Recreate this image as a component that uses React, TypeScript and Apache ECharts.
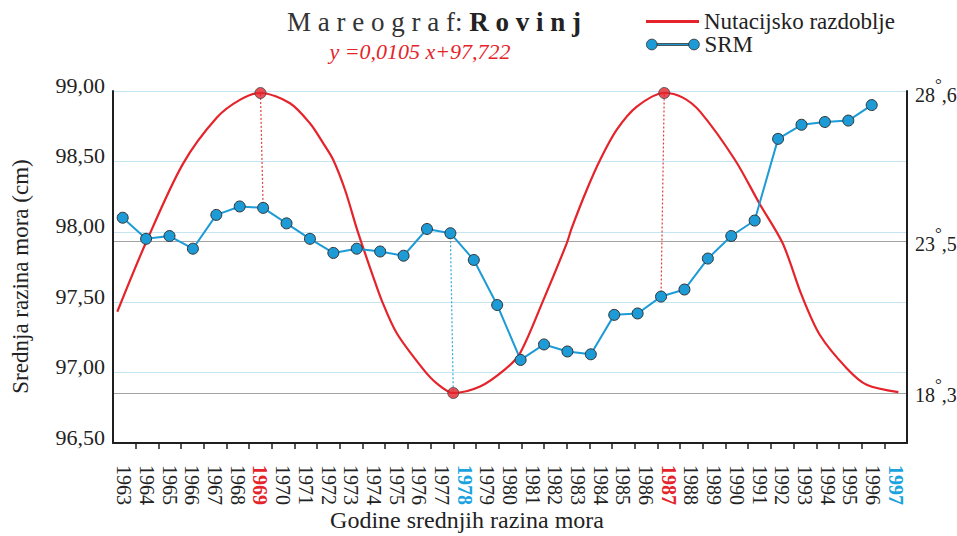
import React, { useEffect, useRef } from 'react';
import * as echarts from 'echarts';

// ---- data ----
const yearLabels = [
  1963, 1964, 1965, 1966, 1967, 1968, 1969, 1970, 1971, 1972, 1973, 1974,
  1975, 1976, 1977, 1978, 1979, 1980, 1981, 1982, 1983, 1984, 1985, 1986,
  1987, 1988, 1989, 1990, 1991, 1992, 1993, 1994, 1995, 1996, 1997,
];
const redLabelYears = [1969, 1987];
const blueLabelYears = [1978, 1997];

const srmYears = [
  1963, 1964, 1965, 1966, 1967, 1968, 1969, 1970, 1971, 1972, 1973, 1974,
  1975, 1976, 1977, 1978, 1979, 1980, 1981, 1982, 1983, 1984, 1985, 1986,
  1987, 1988, 1989, 1990, 1991, 1992, 1993, 1994, 1995,
];
const srmValues = [
  98.10, 97.95, 97.97, 97.88, 98.12, 98.18, 98.17, 98.06, 97.95, 97.85, 97.88,
  97.86, 97.83, 98.02, 97.99, 97.80, 97.48, 97.09, 97.20, 97.15, 97.13, 97.41,
  97.42, 97.54, 97.59, 97.81, 97.97, 98.08, 98.66, 98.76, 98.78, 98.79, 98.90,
];

const nutationYears = [
  1962.69, 1963.94, 1965.57, 1967.07, 1968.13, 1969.0, 1970.3, 1971.18, 1971.77,
  1972.21, 1972.73, 1973.24, 1973.46, 1973.97, 1974.34, 1975.01, 1976.18,
  1976.77, 1977.5, 1978.68, 1979.78, 1980.44, 1981.47, 1982.5, 1982.72, 1983.38,
  1983.97, 1984.7, 1985.59, 1986.8, 1987.6, 1988.38, 1989.92, 1991.0, 1992.02,
  1992.86, 1993.66, 1994.84, 1995.72, 1997.12,
];
const nutationDeg = [
  21.09, 23.44, 26.15, 27.75, 28.38, 28.6, 28.25, 27.56, 26.87, 26.3, 25.27,
  23.96, 23.44, 22.29, 21.49, 20.35, 19.11, 18.63, 18.3, 18.52, 19.11, 19.66,
  21.49, 23.44, 23.96, 25.27, 26.3, 27.33, 28.13, 28.6, 28.45, 27.96, 26.3, 24.8,
  23.44, 21.65, 20.29, 19.15, 18.58, 18.33,
];

const extremaYears = [1969.0, 1977.5, 1986.8];
const extremaDeg = [28.6, 18.3, 28.6];

// vertical dotted connectors: SRM year -> nutation extremum
const linkSrmYears = [1969, 1977, 1986];
const linkExtremaIndex = [0, 1, 2];
const linkColors = ['red', 'blue', 'red'];

const leftTicks = [96.5, 97, 97.5, 98, 98.5, 99];
const rightLabels = [18.3, 23.5, 28.6];
const rightLines = [18.3, 23.5];

// ---- layout / scale constants ----
const X_MAIN = [1962.5, 1997.5];
const X_SRM = [1962.586, 1996.508];
const Y_LEFT = [96.5, 99];
const Y_RIGHT = [16.583, 28.669];

const RED = '#e5232a';
const BLUE = '#1d9bd6';
const BLUE_LABEL = '#1aa3de';
const INK = '#1f1f1f';
const FONT = '"Liberation Serif", "Times New Roman", serif';

const toSrmX = (y: number) =>
  X_SRM[0] + ((y - X_MAIN[0]) / (X_MAIN[1] - X_MAIN[0])) * (X_SRM[1] - X_SRM[0]);
const toLeftY = (d: number) =>
  Y_LEFT[0] + ((d - Y_RIGHT[0]) / (Y_RIGHT[1] - Y_RIGHT[0])) * (Y_LEFT[1] - Y_LEFT[0]);

const tickYears = yearLabels.slice(0, -1).map((y) => y + 0.5);

export default function App() {
  const ref = useRef<HTMLDivElement>(null);

  useEffect(() => {
    if (!ref.current) return;
    const chart = echarts.init(ref.current, undefined, { renderer: 'svg' });

    const srmData = srmYears.map((y, i) => [y, srmValues[i]]);
    const nutData = nutationYears.map((y, i) => [y, nutationDeg[i]]);
    const extData = extremaYears.map((y, i) => [y, extremaDeg[i]]);

    const links = linkSrmYears.map((sy, i) => {
      const k = linkExtremaIndex[i];
      const color = linkColors[i] === 'red' ? RED : BLUE;
      const ls = { color, type: [2, 2], width: 1.2, opacity: 0.9 };
      return [
        { coord: [sy, srmValues[srmYears.indexOf(sy)]], lineStyle: ls },
        { coord: [toSrmX(extremaYears[k]), toLeftY(extremaDeg[k])], lineStyle: ls },
      ];
    });

    const srmIcon =
      'path://M0.5,6A5.5,5.5,0,1,1,11.5,6A5.5,5.5,0,1,1,0.5,6Z M11.5,5L43.5,5L43.5,7L11.5,7Z M43.5,6A5.5,5.5,0,1,1,54.5,6A5.5,5.5,0,1,1,43.5,6Z';

    const option: any = {
      animation: false,
      backgroundColor: '#ffffff',
      grid: {
        left: 113,
        right: 50,
        top: 91,
        bottom: 93,
        containLabel: false,
        outerBoundsMode: 'none',
      },
      title: [
        {
          text: '{a|M a r e o g r a f:} {b|R o v i n j}',
          left: 434,
          top: 8,
          padding: 0,
          textAlign: 'center',
          textStyle: {
            fontFamily: FONT,
            fontSize: 27,
            fontWeight: 'normal',
            color: '#333',
            rich: {
              a: { fontFamily: FONT, fontSize: 27, color: '#333' },
              b: { fontFamily: FONT, fontSize: 27, fontWeight: 'bold', color: '#222' },
            },
          },
        },
        {
          text: 'y =0,0105 x+97,722',
          left: 420,
          top: 40,
          padding: 0,
          textAlign: 'center',
          textStyle: {
            fontFamily: FONT,
            fontSize: 22,
            fontStyle: 'italic',
            fontWeight: 'normal',
            color: RED,
          },
        },
      ],
      legend: [
        {
          data: [{ name: 'Nutacijsko razdoblje', icon: 'rect' }],
          left: 646,
          top: 10,
          padding: 0,
          itemWidth: 53,
          itemHeight: 3,
          selectedMode: false,
          textStyle: { fontFamily: FONT, fontSize: 23, color: '#222' },
        },
        {
          data: [{ name: 'SRM', icon: srmIcon }],
          left: 646,
          top: 33,
          padding: 0,
          itemWidth: 53,
          itemHeight: 12,
          selectedMode: false,
          itemStyle: { color: BLUE, borderColor: '#333', borderWidth: 0.8 },
          textStyle: { fontFamily: FONT, fontSize: 23, color: '#222' },
        },
      ],
      xAxis: [
        {
          type: 'value',
          position: 'bottom',
          min: X_MAIN[0],
          max: X_MAIN[1],
          axisLine: { show: true, onZero: false, lineStyle: { color: INK, width: 2 } },
          axisTick: {
            show: true,
            customValues: tickYears,
            length: 6,
            lineStyle: { color: INK, width: 1.5 },
          },
          splitLine: { show: false },
          axisLabel: {
            customValues: yearLabels,
            rotate: -90,
            margin: 22,
            fontFamily: FONT,
            fontSize: 20,
            color: '#222',
            formatter: (v: number) => {
              const s = String(Math.round(v));
              if (redLabelYears.includes(Math.round(v))) return `{r|${s}}`;
              if (blueLabelYears.includes(Math.round(v))) return `{b|${s}}`;
              return s;
            },
            rich: {
              r: { fontFamily: FONT, fontSize: 20, fontWeight: 'bold', color: RED },
              b: { fontFamily: FONT, fontSize: 20, fontWeight: 'bold', color: BLUE_LABEL },
            },
          },
          name: 'Godine srednjih razina mora',
          nameLocation: 'middle',
          nameGap: 65,
          nameMoveOverlap: false,
          nameTextStyle: {
            fontFamily: FONT,
            fontSize: 24,
            color: '#222',
            padding: [0, 86, 0, 0],
          },
        },
        {
          type: 'value',
          min: X_SRM[0],
          max: X_SRM[1],
          show: false,
        },
      ],
      yAxis: [
        {
          type: 'value',
          position: 'left',
          min: Y_LEFT[0],
          max: Y_LEFT[1],
          interval: 0.5,
          axisLine: { show: true, onZero: false, lineStyle: { color: INK, width: 2 } },
          axisTick: { show: false },
          axisLabel: {
            customValues: leftTicks,
            margin: 8,
            fontFamily: FONT,
            fontSize: 22,
            color: '#222',
            verticalAlign: 'bottom',
            lineHeight: 12,
            formatter: (v: number) => v.toFixed(2).replace('.', ','),
          },
          splitLine: { show: true, lineStyle: { color: '#c5e5f3', width: 1.2 } },
          name: 'Srednja razina mora (cm)',
          nameLocation: 'middle',
          nameGap: 81,
          nameMoveOverlap: false,
          nameTextStyle: {
            fontFamily: FONT,
            fontSize: 23,
            color: '#222',
            padding: [0, 19, 0, 0],
          },
        },
        {
          type: 'value',
          position: 'right',
          min: Y_RIGHT[0],
          max: Y_RIGHT[1],
          axisLine: { show: true, onZero: false, lineStyle: { color: INK, width: 2 } },
          axisTick: { show: false, customValues: rightLines },
          axisLabel: {
            customValues: rightLabels,
            margin: 8,
            color: '#222',
            formatter: (v: number) => {
              const [a, b] = v.toFixed(1).split('.');
              return `{n|${a}}{d|°}{m|,${b}}`;
            },
            rich: {
              n: { fontFamily: FONT, fontSize: 20, color: '#222', padding: [9, 0, 5, 0] },
              m: { fontFamily: FONT, fontSize: 20, color: '#222', padding: [9, 0, 5, 0] },
              d: { fontFamily: FONT, fontSize: 17, color: '#222', verticalAlign: 'top' },
            },
          },
          splitLine: { show: true, lineStyle: { color: '#a3a3a3', width: 1 } },
        },
      ],
      series: [
        {
          name: 'Nutacijsko razdoblje',
          type: 'line',
          xAxisIndex: 0,
          yAxisIndex: 1,
          data: nutData,
          smooth: 0.3,
          symbol: 'none',
          showSymbol: false,
          lineStyle: { color: RED, width: 2.2 },
          itemStyle: { color: RED },
          z: 2,
        },
        {
          name: 'SRM',
          type: 'line',
          xAxisIndex: 1,
          yAxisIndex: 0,
          data: srmData,
          symbol: 'circle',
          symbolSize: 11,
          lineStyle: { color: BLUE, width: 2 },
          itemStyle: { color: BLUE, borderColor: '#333', borderWidth: 1 },
          z: 3,
          markLine: {
            silent: true,
            symbol: ['none', 'none'],
            label: { show: false },
            animation: false,
            z: 1,
            data: links,
          },
        },
        {
          name: 'extrema',
          type: 'scatter',
          xAxisIndex: 0,
          yAxisIndex: 1,
          data: extData,
          symbol: 'circle',
          symbolSize: 11,
          itemStyle: { color: RED, borderColor: '#444', borderWidth: 1 },
          z: 4,
        },
      ],
    };

    chart.setOption(option);
    return () => chart.dispose();
  }, []);

  return (
    <div
      ref={ref}
      style={{ position: 'absolute', left: 0, top: 0, width: 957, height: 536 }}
    />
  );
}
